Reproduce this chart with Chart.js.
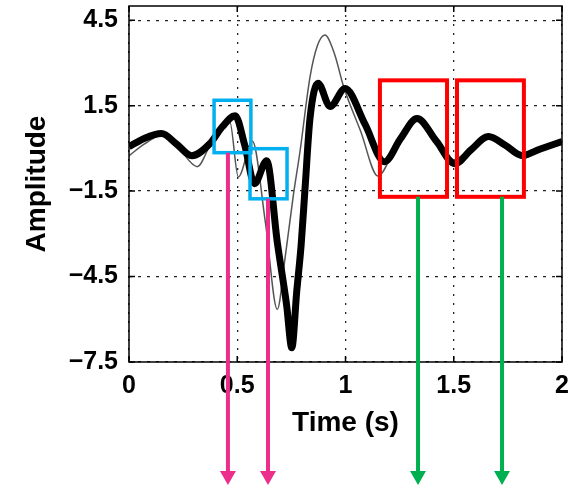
<!DOCTYPE html>
<html>
<head>
<meta charset="utf-8">
<script src="https://cdn.jsdelivr.net/npm/chart.js@4.4.1/dist/chart.umd.min.js"></script>
<style>
  html, body { margin: 0; padding: 0; background: #fff; }
  canvas { display: block; }
</style>
</head>
<body>
<canvas id="grafica" width="570" height="490"></canvas>
<script>
// filtered trace (thick line)
const tiempoGrueso = [0, 0.07, 0.15, 0.22, 0.29, 0.374, 0.43, 0.49, 0.535, 0.58, 0.636, 0.685, 0.728, 0.752, 0.775, 0.795, 0.813, 0.836, 0.873, 0.929, 0.998, 1.09, 1.18, 1.255, 1.33, 1.42, 1.505, 1.58, 1.66, 1.74, 1.815, 1.9, 2];
const amplitudGrueso = [0.06, 0.35, 0.52, 0.15, -0.26, 0.17, 0.75, 1.15, 0.1, -1.24, -0.43, -3.3, -5.5, -7.0, -5.0, -3.4, -1.42, 1.05, 2.29, 1.47, 2.1, 0.85, -0.47, 0.35, 1.05, 0.25, -0.54, -0.05, 0.42, 0.1, -0.25, -0.02, 0.24];

// raw trace (thin line)
const tiempoFino = [0, 0.07, 0.15, 0.23, 0.315, 0.38, 0.43, 0.465, 0.505, 0.57, 0.63, 0.685, 0.72, 0.76, 0.79, 0.836, 0.87, 0.905, 0.95, 0.99, 1.07, 1.15, 1.24, 1.33, 1.42, 1.5, 1.58, 1.66, 1.74, 1.82, 1.9, 2];
const amplitudFino = [-0.26, 0.15, 0.45, 0, -0.64, 0.2, 0.72, 0.95, -1.0, 0.25, -2.6, -5.65, -3.9, -1.6, -0.1, 2.5, 3.6, 3.98, 3.3, 2.2, 0.6, -0.97, 0.2, 1.0, 0.3, -0.4, 0.05, 0.5, 0.15, -0.35, -0.05, 0.3];

const ticksX = [0, 0.5, 1, 1.5, 2];
const ticksY = [-7.5, -4.5, -1.5, 1.5, 4.5];

const fuente = { family: '"Liberation Sans", Arial, sans-serif', weight: 'bold' };

const puntos = (xs, ys) => xs.map((x, i) => ({ x, y: ys[i] }));

// frame, inward ticks and the highlight boxes / arrows
const marcas = {
  id: 'marcas',
  afterDatasetsDraw(chart) {
    const { ctx, chartArea: a, scales: { x, y } } = chart;
    ctx.save();
    ctx.strokeStyle = '#000';
    ctx.lineWidth = 1.5;
    ctx.strokeRect(a.left, a.top, a.right - a.left, a.bottom - a.top);
    ctx.beginPath();
    ticksX.forEach((v) => {
      const px = x.getPixelForValue(v);
      ctx.moveTo(px, a.top); ctx.lineTo(px, a.top + 6);
      ctx.moveTo(px, a.bottom); ctx.lineTo(px, a.bottom - 6);
    });
    ticksY.forEach((v) => {
      const py = y.getPixelForValue(v);
      ctx.moveTo(a.left, py); ctx.lineTo(a.left + 6, py);
      ctx.moveTo(a.right, py); ctx.lineTo(a.right - 6, py);
    });
    ctx.stroke();
    ctx.restore();
  },
  afterDraw(chart) {
    const { ctx, scales: { x, y } } = chart;
    const fondo = chart.height - 5;

    const cuadro = (t0, t1, v0, v1, color, ancho) => {
      const x0 = x.getPixelForValue(t0), x1 = x.getPixelForValue(t1);
      const y0 = y.getPixelForValue(v0), y1 = y.getPixelForValue(v1);
      ctx.strokeStyle = color;
      ctx.lineWidth = ancho;
      ctx.strokeRect(x0, y0, x1 - x0, y1 - y0);
    };

    const flecha = (t, v, color) => {
      const px = x.getPixelForValue(t);
      const py = y.getPixelForValue(v);
      ctx.strokeStyle = color;
      ctx.fillStyle = color;
      ctx.lineWidth = 4;
      ctx.beginPath();
      ctx.moveTo(px, py);
      ctx.lineTo(px, fondo - 12);
      ctx.stroke();
      ctx.beginPath();
      ctx.moveTo(px - 8, fondo - 14);
      ctx.lineTo(px + 8, fondo - 14);
      ctx.lineTo(px, fondo);
      ctx.closePath();
      ctx.fill();
    };

    ctx.save();
    cuadro(0.393, 0.563, 1.69, -0.15, '#00b0f0', 3.5);
    cuadro(0.559, 0.73, -0.01, -1.77, '#00b0f0', 3.5);
    cuadro(1.159, 1.469, 2.39, -1.7, '#ff0000', 4);
    cuadro(1.515, 1.824, 2.39, -1.7, '#ff0000', 4);
    flecha(0.457, -0.15, '#ec2d8c');
    flecha(0.642, -1.77, '#ec2d8c');
    flecha(1.335, -1.7, '#00b050');
    flecha(1.723, -1.7, '#00b050');
    ctx.restore();
  }
};

new Chart(document.getElementById('grafica'), {
  type: 'line',
  data: {
    datasets: [
      {
        data: puntos(tiempoGrueso, amplitudGrueso),
        borderColor: '#000',
        borderWidth: 7,
        pointRadius: 0,
        cubicInterpolationMode: 'monotone'
      },
      {
        data: puntos(tiempoFino, amplitudFino),
        borderColor: '#555',
        borderWidth: 1.5,
        pointRadius: 0,
        cubicInterpolationMode: 'monotone'
      }
    ]
  },
  options: {
    responsive: false,
    animation: false,
    events: [],
    layout: { padding: { left: 0, top: 6, right: 8, bottom: 0 } },
    plugins: { legend: { display: false }, tooltip: { enabled: false } },
    scales: {
      x: {
        type: 'linear',
        min: 0,
        max: 2,
        afterBuildTicks: (s) => { s.ticks = ticksX.map((v) => ({ value: v })); },
        afterFit: (s) => {
          s.height = 128;
          s.paddingLeft = 0;
          s.paddingRight = 0;
        },
        ticks: {
          color: '#000',
          padding: 9,
          font: { ...fuente, size: 25 },
          maxRotation: 0,
          callback: (v) => String(v)
        },
        grid: { color: '#222', lineWidth: 1.3, drawTicks: false },
        border: { display: false, dash: [2, 7] },
        title: { display: true, text: 'Time (s)', color: '#000', font: { ...fuente, size: 28 }, padding: { top: 0, bottom: 50 } }
      },
      y: {
        min: -7.5,
        max: 5,
        afterBuildTicks: (s) => { s.ticks = ticksY.map((v) => ({ value: v })); },
        afterFit: (s) => {
          s.width = 129;
          s.paddingTop = 0;
          s.paddingBottom = 0;
        },
        ticks: {
          color: '#000',
          padding: 11,
          font: { ...fuente, size: 25 },
          callback: (v) => (v < 0 ? '\u2212' : '') + Math.abs(v).toFixed(1)
        },
        grid: { color: '#222', lineWidth: 1.3, drawTicks: false },
        border: { display: false, dash: [3, 6] },
        title: { display: true, text: 'Amplitude', color: '#000', font: { ...fuente, size: 28 }, padding: { top: 20, bottom: 0 } }
      }
    }
  },
  plugins: [marcas]
});
</script>
</body>
</html>
